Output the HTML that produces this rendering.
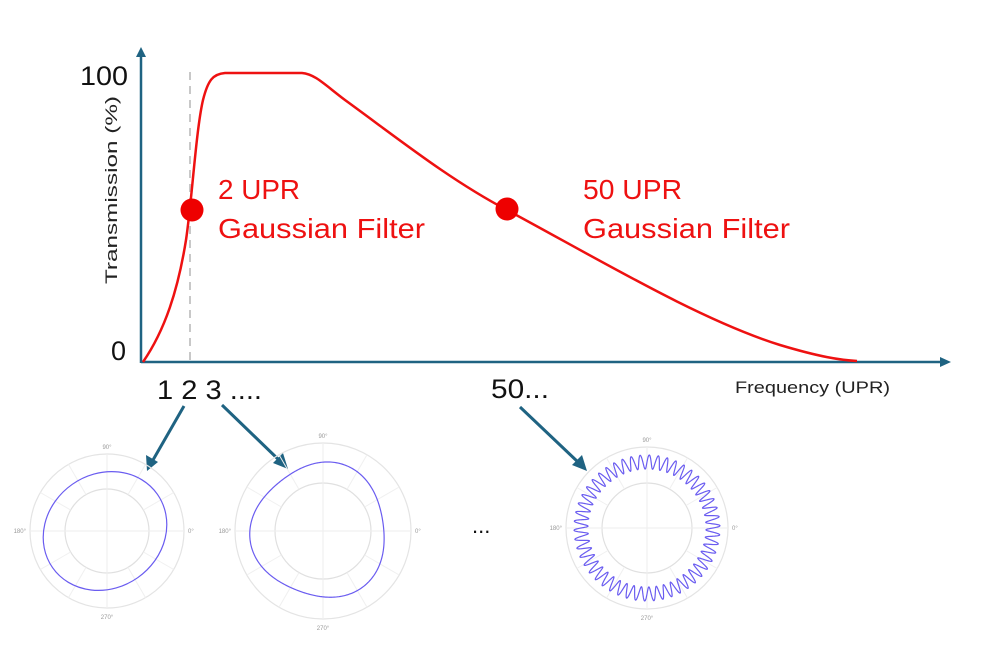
<!DOCTYPE html>
<html><head><meta charset="utf-8"><style>
html,body{margin:0;padding:0;background:#fff;}
svg{display:block;}
text{font-family:"Liberation Sans",sans-serif;}
</style></head><body>
<svg id="s" width="1000" height="667" viewBox="0 0 1000 667" xmlns="http://www.w3.org/2000/svg">
<rect width="1000" height="667" fill="#fff"/>
<line x1="190" y1="72" x2="190" y2="362" stroke="#c8c8c8" stroke-width="2" stroke-dasharray="8,6"/>
<line x1="141" y1="363" x2="141" y2="56" stroke="#1f6382" stroke-width="2.5"/>
<polygon points="141,47 136,57 146,57" fill="#1f6382"/>
<line x1="141" y1="362" x2="942" y2="362" stroke="#1f6382" stroke-width="2.5"/>
<polygon points="951,362 940,357 940,367" fill="#1f6382"/>
<path d="M143,362 C165,330 178,290 186,240 C192,200 196,130 203,100 C208,80 213,74 225,73 L302,73 C315,74 325,85 345,100 C400,140 450,180 507,210 C600,260 700,320 780,345 C820,357 840,360 857,361" fill="none" stroke="#ee1111" stroke-width="2.5"/>
<circle cx="192" cy="210" r="11.5" fill="#ee0000"/>
<circle cx="507" cy="209" r="11.5" fill="#ee0000"/>
<text x="80" y="85" font-size="27" fill="#111" textLength="48" lengthAdjust="spacingAndGlyphs">100</text>
<text x="111" y="360" font-size="27" fill="#111">0</text>
<text transform="translate(117,284) rotate(-90)" font-size="17" fill="#222" textLength="188" lengthAdjust="spacingAndGlyphs">Transmission (%)</text>
<text x="735" y="393" font-size="17" fill="#222" textLength="155" lengthAdjust="spacingAndGlyphs">Frequency  (UPR)</text>
<text x="157" y="399" font-size="27" fill="#111" textLength="105" lengthAdjust="spacingAndGlyphs">1 2 3 ....</text>
<text x="491" y="398" font-size="27" fill="#111" textLength="58" lengthAdjust="spacingAndGlyphs">50...</text>
<text x="218" y="199" font-size="28" fill="#ee1111" textLength="82" lengthAdjust="spacingAndGlyphs">2 UPR</text>
<text x="218" y="238" font-size="28" fill="#ee1111" textLength="207" lengthAdjust="spacingAndGlyphs">Gaussian Filter</text>
<text x="583" y="199" font-size="28" fill="#ee1111" textLength="99" lengthAdjust="spacingAndGlyphs">50 UPR</text>
<text x="583" y="238" font-size="28" fill="#ee1111" textLength="207" lengthAdjust="spacingAndGlyphs">Gaussian Filter</text>
<text x="472" y="533" font-size="22" fill="#111">...</text>
<g stroke="#1f6382" stroke-width="3" fill="#1f6382">
<line x1="184" y1="406" x2="153" y2="460"/>
<polygon points="147,471 146,455 158,462" stroke="none"/>
<line x1="222" y1="405" x2="280" y2="461"/>
<polygon points="288,469 273,463 283,453" stroke="none"/>
<line x1="520" y1="407" x2="579" y2="463"/>
<polygon points="587,471 572,465 582,455" stroke="none"/>
</g>
<g id="polars"></g>
</svg>
<script>
(function(){
var g=document.getElementById('polars'),NS='http://www.w3.org/2000/svg';
function el(t,a,txt){var e=document.createElementNS(NS,t);for(var k in a)e.setAttribute(k,a[k]);if(txt)e.textContent=txt;g.appendChild(e);return e;}
function grid(cx,cy,R,ri){
 el('circle',{cx:cx,cy:cy,r:R,fill:'none',stroke:'#e4e4e4','stroke-width':1.2});
 el('circle',{cx:cx,cy:cy,r:ri,fill:'none',stroke:'#e0e0e0','stroke-width':1.2});
 for(var a=0;a<360;a+=30){var t=a*Math.PI/180;
  el('line',{x1:cx+ri*Math.cos(t),y1:cy-ri*Math.sin(t),x2:cx+R*Math.cos(t),y2:cy-R*Math.sin(t),stroke:'#f0f0f0','stroke-width':1});}
 el('line',{x1:cx-R,y1:cy,x2:cx+R,y2:cy,stroke:'#eeeeee','stroke-width':1});
 el('line',{x1:cx,y1:cy-R,x2:cx,y2:cy+R,stroke:'#eeeeee','stroke-width':1});
 var fs=6;
 el('text',{x:cx,y:cy-R-5,'font-size':fs,fill:'#999','text-anchor':'middle'},'90°');
 el('text',{x:cx,y:cy+R+11,'font-size':fs,fill:'#999','text-anchor':'middle'},'270°');
 el('text',{x:cx-R-4,y:cy+2,'font-size':fs,fill:'#999','text-anchor':'end'},'180°');
 el('text',{x:cx+R+4,y:cy+2,'font-size':fs,fill:'#999'},'0°');
}
function curve(cx,cy,f,n){var d='';for(var i=0;i<=n;i++){var t=i/n*2*Math.PI;var r=f(t);d+=(i?'L':'M')+(cx+r*Math.cos(t)).toFixed(2)+','+(cy-r*Math.sin(t)).toFixed(2);}
 el('path',{d:d+'Z',fill:'none',stroke:'#6a5cf0','stroke-width':1.2});}
grid(107,531,77,42);
el('ellipse',{cx:105,cy:531,rx:64,ry:57,transform:'rotate(-35 105 531)',fill:'none',stroke:'#6a5cf0','stroke-width':1.2});
grid(323,531,88,48);
curve(320,531,function(t){return 67-3.5*Math.cos(3*(t-0.15));},360);
grid(647,528,81,45);
curve(647,528,function(t){return 66+7*Math.sin(50*t);},2000);
})();
</script>
</body></html>
